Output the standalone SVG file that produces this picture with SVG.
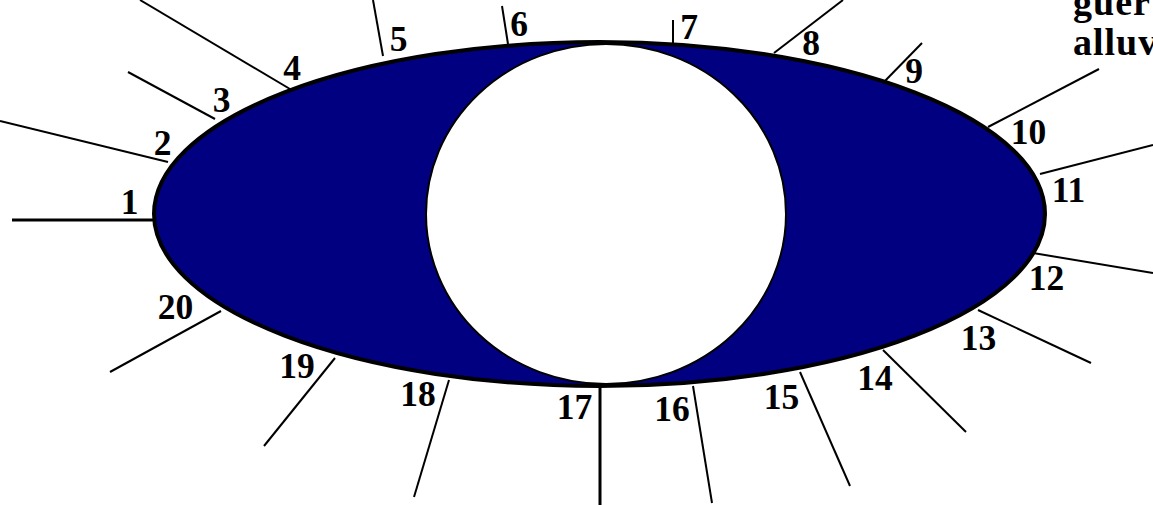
<svg xmlns="http://www.w3.org/2000/svg" width="1153" height="505" viewBox="0 0 1153 505">
<style>
.lbl{font-family:"Liberation Serif","Times New Roman",serif;font-weight:bold;font-size:35.5px;fill:#000;text-anchor:middle}
.txt{font-family:"Liberation Serif","Times New Roman",serif;font-weight:bold;font-size:38px;letter-spacing:1px;fill:#000}
.ld{stroke:#000;stroke-width:2;fill:none}
</style>
<rect x="0" y="0" width="1153" height="505" fill="#fff"/>
<g id="leaders">
<line class="ld" x1="12" y1="220" x2="154" y2="220" style="stroke-width:3"/>
<line class="ld" x1="0" y1="121" x2="168" y2="162"/>
<line class="ld" x1="128" y1="72" x2="215" y2="119"/>
<line class="ld" x1="140" y1="0" x2="290" y2="89"/>
<line class="ld" x1="373" y1="0" x2="383" y2="56"/>
<line class="ld" x1="502" y1="6" x2="508" y2="44"/>
<line class="ld" x1="673" y1="20" x2="673" y2="44"/>
<line class="ld" x1="843" y1="0" x2="774" y2="53"/>
<line class="ld" x1="922" y1="43" x2="882" y2="84"/>
<line class="ld" x1="1099" y1="69" x2="988" y2="127"/>
<line class="ld" x1="1153" y1="145" x2="1040" y2="174"/>
<line class="ld" x1="1033" y1="253" x2="1153" y2="273"/>
<line class="ld" x1="978" y1="310" x2="1091" y2="363"/>
<line class="ld" x1="883" y1="350" x2="966" y2="432"/>
<line class="ld" x1="800" y1="372" x2="850" y2="486"/>
<line class="ld" x1="693" y1="386" x2="712" y2="503"/>
<line class="ld" x1="600" y1="384" x2="600" y2="505" style="stroke-width:3"/>
<line class="ld" x1="449" y1="380" x2="414" y2="497"/>
<line class="ld" x1="335" y1="358" x2="264" y2="446"/>
<line class="ld" x1="221" y1="311" x2="110" y2="372"/>
</g>
<g id="body">
<ellipse cx="599.5" cy="214" rx="445.5" ry="172" fill="#000080" stroke="#000" stroke-width="4"/>
<ellipse cx="606" cy="214" rx="180" ry="170" fill="#fff" stroke="#000" stroke-width="2"/>
</g>
<g id="labels">
<text id="n1" class="lbl" x="129.5" y="214">1</text>
<text id="n2" class="lbl" x="162.5" y="155">2</text>
<text id="n3" class="lbl" x="221.5" y="112">3</text>
<text id="n4" class="lbl" x="292" y="80">4</text>
<text id="n5" class="lbl" x="398.5" y="51">5</text>
<text id="n6" class="lbl" x="519" y="36">6</text>
<text id="n7" class="lbl" x="689" y="39">7</text>
<text id="n8" class="lbl" x="811" y="55">8</text>
<text id="n9" class="lbl" x="914" y="83">9</text>
<text id="n10" class="lbl" x="1028.5" y="144">10</text>
<text id="n11" class="lbl" x="1068.5" y="202">11</text>
<text id="n12" class="lbl" x="1046.5" y="290">12</text>
<text id="n13" class="lbl" x="978.5" y="350">13</text>
<text id="n14" class="lbl" x="875" y="390">14</text>
<text id="n15" class="lbl" x="781.5" y="409">15</text>
<text id="n16" class="lbl" x="672" y="421">16</text>
<text id="n17" class="lbl" x="574.5" y="419">17</text>
<text id="n18" class="lbl" x="418" y="406">18</text>
<text id="n19" class="lbl" x="297" y="378">19</text>
<text id="n20" class="lbl" x="175.5" y="319">20</text>
</g>
<g id="caption">
<text class="txt" x="1073" y="15">guer</text>
<text class="txt" x="1073" y="55">alluv</text>
</g>
</svg>
